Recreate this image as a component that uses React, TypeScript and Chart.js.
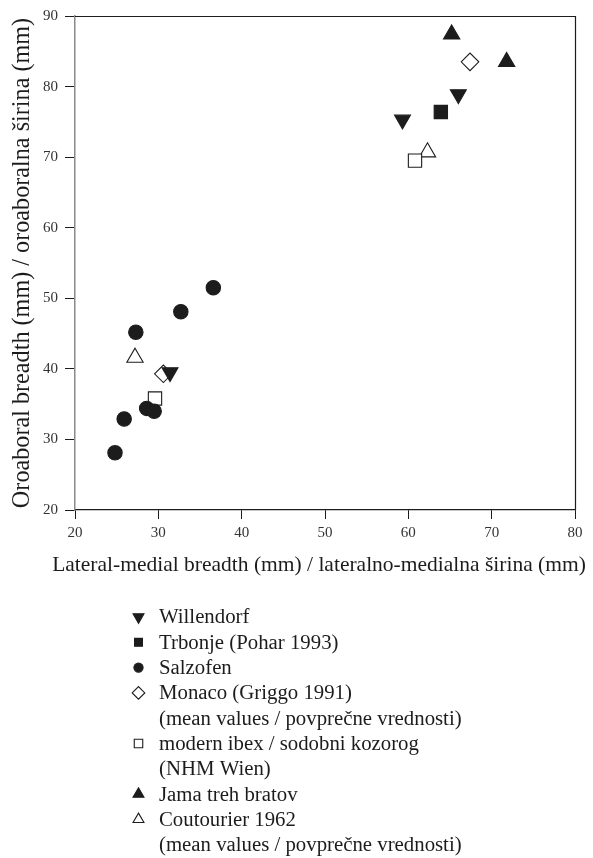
import React, { useEffect, useRef } from "react";
import { Chart, registerables } from "chart.js";
import { drawPoint } from "chart.js/helpers";

Chart.register(...registerables);

const xTitle = "Lateral-medial breadth (mm) / lateralno-medialna širina (mm)";
const yTitle = "Oroaboral breadth (mm) / oroaboralna širina (mm)";

const willendorfX = [31.4, 59.3, 66.0];
const willendorfY = [39.5, 75.3, 78.9];
const trbonjeX = [63.9];
const trbonjeY = [76.4];
const salzofenX = [24.8, 25.9, 27.3, 28.6, 29.5, 32.7, 36.6];
const salzofenY = [28.1, 32.9, 45.2, 34.4, 34.0, 48.1, 51.5];
const monacoX = [30.6, 67.4];
const monacoY = [39.3, 83.5];
const ibexX = [29.6, 60.8];
const ibexY = [35.8, 69.5];
const jamaX = [65.2, 71.8];
const jamaY = [87.4, 83.5];
const coutourierX = [27.2, 62.3];
const coutourierY = [41.6, 70.7];

const seriesNames = [
  "Willendorf",
  "Trbonje (Pohar 1993)",
  "Salzofen",
  "Monaco (Griggo 1991)",
  "modern ibex / sodobni kozorog",
  "Jama treh bratov",
  "Coutourier 1962",
];
const noteMean = "(mean values / povprečne vrednosti)";
const noteNHM = "(NHM Wien)";

const INK = "#1c1c1c";
const SERIF = '"Liberation Serif", "DejaVu Serif", serif';

function pts(xs: number[], ys: number[]) {
  return xs.map((x, i) => ({ x, y: ys[i] }));
}

type Mk = { style: string; rot: number; filled: boolean; r: number; lr: number };
const markers: Mk[] = [
  { style: "triangle", rot: 180, filled: true, r: 9.2, lr: 6.3 },
  { style: "rect", rot: 0, filled: true, r: 9.4, lr: 5.6 },
  { style: "circle", rot: 0, filled: true, r: 7.2, lr: 4.6 },
  { style: "rectRot", rot: 0, filled: false, r: 8.8, lr: 6.3 },
  { style: "rect", rot: 0, filled: false, r: 9.4, lr: 6.0 },
  { style: "triangle", rot: 0, filled: true, r: 9.4, lr: 6.3 },
  { style: "triangle", rot: 0, filled: false, r: 9.4, lr: 6.3 },
];

const seriesData = [
  pts(willendorfX, willendorfY),
  pts(trbonjeX, trbonjeY),
  pts(salzofenX, salzofenY),
  pts(monacoX, monacoY),
  pts(ibexX, ibexY),
  pts(jamaX, jamaY),
  pts(coutourierX, coutourierY),
];

// legend rows: marker index (or -1) and text
const legendRows: { m: number; text: string }[] = [
  { m: 0, text: seriesNames[0] },
  { m: 1, text: seriesNames[1] },
  { m: 2, text: seriesNames[2] },
  { m: 3, text: seriesNames[3] },
  { m: -1, text: noteMean },
  { m: 4, text: seriesNames[4] },
  { m: -1, text: noteNHM },
  { m: 5, text: seriesNames[5] },
  { m: 6, text: seriesNames[6] },
  { m: -1, text: noteMean },
];

const framePlugin = {
  id: "frameAndLegend",
  afterDraw(chart: any) {
    const ctx = chart.ctx;
    const a = chart.chartArea;
    ctx.save();
    ctx.strokeStyle = INK;
    ctx.lineWidth = 1.2;
    ctx.beginPath();
    ctx.moveTo(a.left, a.top + 0.5);
    ctx.lineTo(a.right + 0.5, a.top + 0.5);
    ctx.lineTo(a.right + 0.5, a.bottom);
    ctx.stroke();

    // x axis title (drawn without width squeezing)
    ctx.font = `21.5px ${SERIF}`;
    ctx.fillStyle = INK;
    ctx.textAlign = "center";
    ctx.textBaseline = "alphabetic";
    ctx.fillText(xTitle, (a.left + a.right) / 2 - 6, a.bottom + 61);

    // legend
    const mx = 138.5;
    const tx = 159;
    const y0 = 617;
    const dy = 25.3;
    ctx.font = `20.8px ${SERIF}`;
    ctx.textBaseline = "middle";
    ctx.textAlign = "left";
    legendRows.forEach((row, i) => {
      const y = y0 + i * dy;
      if (row.m >= 0) {
        const mk = markers[row.m];
        ctx.fillStyle = mk.filled ? INK : "#ffffff";
        ctx.strokeStyle = INK;
        ctx.lineWidth = 1.1;
        drawPoint(ctx, { pointStyle: mk.style, rotation: mk.rot, radius: mk.lr, borderWidth: 1.1 }, mx, y);
      }
      ctx.fillStyle = INK;
      ctx.fillText(row.text, tx, y + 1);
    });
    ctx.restore();
  },
};

export default function App() {
  const ref = useRef<HTMLCanvasElement | null>(null);
  useEffect(() => {
    document.body.style.margin = "0";
    const canvas = ref.current;
    if (!canvas) return;
    const chart = new Chart(canvas, {
      type: "scatter",
      data: {
        datasets: seriesData.map((d, i) => ({
          label: seriesNames[i],
          data: d,
          pointStyle: markers[i].style as any,
          rotation: markers[i].rot,
          radius: markers[i].r,
          hoverRadius: markers[i].r,
          backgroundColor: markers[i].filled ? INK : "#ffffff",
          borderColor: INK,
          borderWidth: 1.1,
        })),
      },
      options: {
        animation: false,
        responsive: false,
        devicePixelRatio: 1,
        layout: { padding: { left: 0, top: 10, right: 18, bottom: 278 } },
        plugins: { legend: { display: false }, tooltip: { enabled: false } },
        scales: {
          x: {
            type: "linear",
            min: 20,
            max: 80,
            afterFit(s: any) {
              s.height = 70;
            },
            ticks: { stepSize: 10, color: "#333", font: { family: SERIF, size: 15 }, padding: 5 },
            grid: { drawOnChartArea: false, drawTicks: true, tickLength: 9, color: INK, tickWidth: 1 },
            border: { color: INK, width: 1.2 },
            title: { display: false, text: xTitle },
          },
          y: {
            type: "linear",
            min: 20,
            max: 90,
            afterFit(s: any) {
              s.width = 75;
            },
            ticks: { stepSize: 10, color: "#333", font: { family: SERIF, size: 15 }, padding: 7 },
            grid: { drawOnChartArea: false, drawTicks: true, tickLength: 10, color: INK, tickWidth: 1 },
            border: { color: "#8a8a8a", width: 1.5 },
            title: {
              display: true,
              text: yTitle,
              color: INK,
              font: { family: SERIF, size: 24.2 },
              padding: { top: 8.5, bottom: 0 },
            },
          },
        },
      },
      plugins: [framePlugin],
    });
    return () => chart.destroy();
  }, []);
  return <canvas ref={ref} width={593} height={858} style={{ display: "block", width: 593, height: 858 }} />;
}
